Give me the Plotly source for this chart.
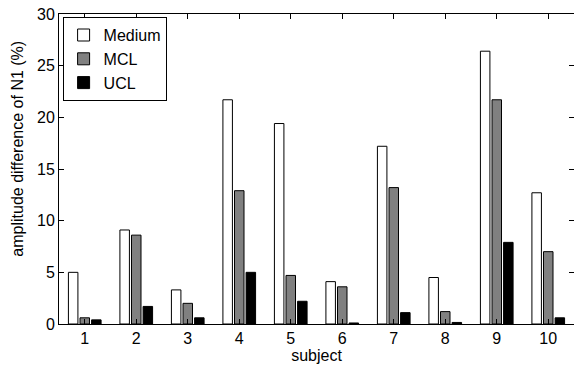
import plotly.graph_objects as go

subjects = [1, 2, 3, 4, 5, 6, 7, 8, 9, 10]
medium = [5.0, 9.1, 3.3, 21.7, 19.4, 4.1, 17.2, 4.5, 26.4, 12.7]
mcl = [0.6, 8.6, 2.0, 12.9, 4.7, 3.6, 13.2, 1.2, 21.7, 7.0]
ucl = [0.4, 1.7, 0.6, 5.0, 2.2, 0.1, 1.1, 0.15, 7.9, 0.6]
series_names = ["Medium", "MCL", "UCL"]
colors = ["#ffffff", "#808080", "#000000"]

fig = go.Figure()
for name, vals, col in zip(series_names, [medium, mcl, ucl], colors):
    fig.add_trace(go.Bar(x=subjects, y=vals, name=name,
                         marker=dict(color=col, line=dict(color="black", width=1))))

font = dict(family="Liberation Sans, Arial, sans-serif", size=16, color="black")
fig.update_layout(
    width=574, height=369,
    margin=dict(l=59, r=0, t=14, b=45),
    paper_bgcolor="white", plot_bgcolor="white",
    barmode="group", bargap=0.325, bargroupgap=0.18,
    font=font,
    showlegend=True,
    legend=dict(x=0.007, y=0.99, xanchor="left", yanchor="top",
                bordercolor="black", borderwidth=1, bgcolor="white",
                font=dict(size=16), tracegroupgap=0, itemwidth=30),
    xaxis=dict(range=[0.5, 10.5], tickvals=subjects, ticktext=[str(s) for s in subjects],
               showline=True, linecolor="black", linewidth=1, mirror="ticks",
               ticks="inside", ticklen=5, tickcolor="black", showgrid=False,
               zeroline=False, tickfont=dict(size=16),
               title=dict(text="subject", font=dict(size=16), standoff=0)),
    yaxis=dict(range=[0, 30], tickvals=[0, 5, 10, 15, 20, 25, 30],
               showline=True, linecolor="black", linewidth=1, mirror="ticks",
               ticks="inside", ticklen=5, tickcolor="black", showgrid=False,
               zeroline=False, tickfont=dict(size=16)),
    annotations=[dict(text="amplitude difference of N1 (%)", textangle=-90,
                      xref="paper", yref="paper", x=-0.08, y=0.565,
                      xanchor="center", yanchor="middle", showarrow=False,
                      font=dict(size=16))],
)
fig.write_html("out.html")
